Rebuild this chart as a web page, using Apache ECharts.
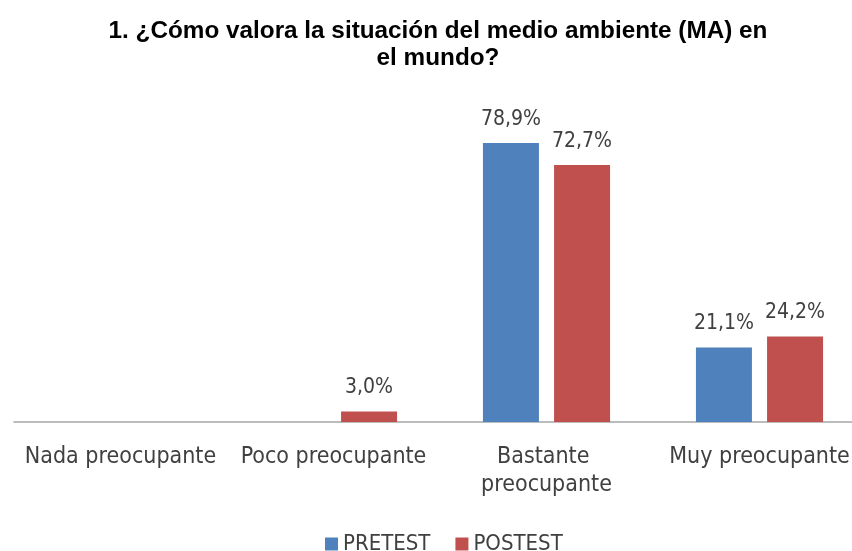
<!DOCTYPE html>
<html><head><meta charset="utf-8">
<script src="https://cdn.jsdelivr.net/npm/echarts@6/dist/echarts.min.js"></script>
<style>html,body{margin:0;padding:0;background:#fff;overflow:hidden}#c{width:866px;height:551px}</style>
</head><body><div id="c"></div>
<script>
const categories = ['Nada preocupante', 'Poco preocupante', 'Bastante preocupante', 'Muy preocupante'];
const pretest = [0, 0, 78.9, 21.1];
const postest = [0, 3.0, 72.7, 24.2];
const seriesNames = ['PRETEST', 'POSTEST'];
const titleText = '1. ¿Cómo valora la situación del medio ambiente (MA) en\nel mundo?';

const labelFont = '"Liberation Sans Narrow", "DejaVu Sans Condensed", Roboto, sans-serif';
const fmt = p => p.value ? p.value.toFixed(1).replace('.', ',') + '%' : '';

const chart = echarts.init(document.getElementById('c'));
chart.setOption({
  animation: false,
  backgroundColor: '#fff',
  title: {
    text: titleText, left: 433, top: 13, textAlign: 'center',
    textStyle: { fontFamily: '"Liberation Sans", Arial, sans-serif', fontWeight: 'bold', fontSize: 24.3, color: '#000', lineHeight: 27 }
  },
  legend: {
    data: seriesNames, top: 528, left: 320, itemWidth: 13, itemHeight: 13, itemGap: 25,
    icon: 'rect',
    textStyle: { fontFamily: labelFont, fontSize: 22, color: '#404040' }
  },
  grid: { left: 14, right: 0, top: 68.4, bottom: 129, containLabel: false },
  xAxis: {
    type: 'category', data: categories,
    axisLine: { lineStyle: { color: '#a6a6a6', width: 1.5 } },
    axisTick: { show: false },
    axisLabel: { interval: 0, margin: 21, width: 205, overflow: 'break', lineHeight: 28,
      fontFamily: labelFont, fontSize: 23, color: '#404040' }
  },
  yAxis: { type: 'value', min: 0, max: 100, show: false, splitLine: { show: false } },
  series: [
    { name: seriesNames[0], type: 'bar', data: pretest, barWidth: 56, barGap: '27%',
      itemStyle: { color: '#4f81bd' },
      label: { show: true, position: 'top', distance: 13, formatter: fmt, fontFamily: labelFont, fontSize: 21, color: '#404040' } },
    { name: seriesNames[1], type: 'bar', data: postest, barWidth: 56,
      itemStyle: { color: '#c0504d' },
      label: { show: true, position: 'top', distance: 13, formatter: fmt, fontFamily: labelFont, fontSize: 21, color: '#404040' } }
  ]
});
</script></body></html>
